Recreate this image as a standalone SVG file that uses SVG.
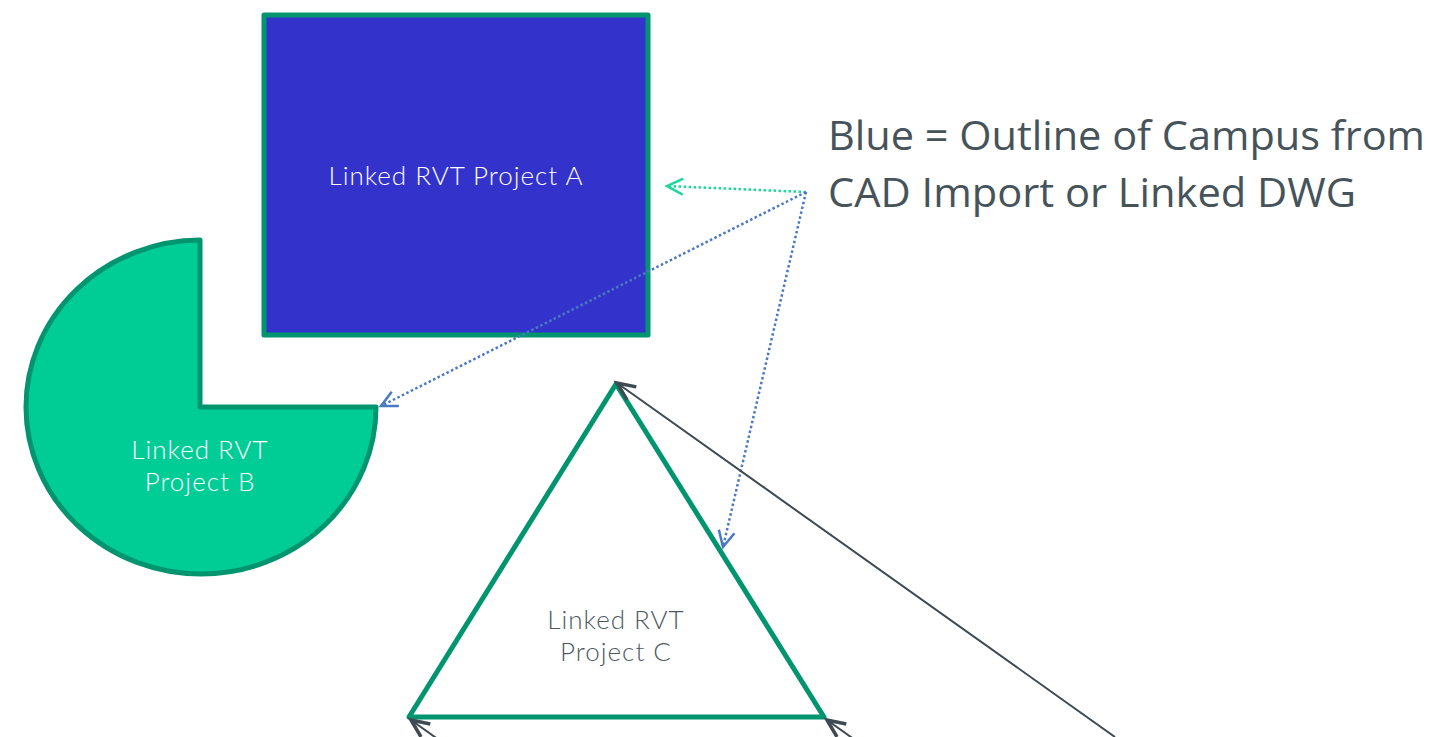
<svg xmlns="http://www.w3.org/2000/svg" width="1436" height="737" viewBox="0 0 1436 737">
<style>
.shape{stroke:#00956E;stroke-width:5;stroke-linejoin:round}
.lbl{font-family:"Lato","Inter",sans-serif;font-weight:300;font-size:26px;letter-spacing:1px;text-anchor:middle}
.note{font-family:"Open Sans","Noto Sans",sans-serif;font-size:40px;fill:#46535B}
.dotg{fill:none;stroke:#1ED79A;stroke-width:2.5;stroke-dasharray:2.5 2.5}
.dotb{fill:none;stroke:#4A78C2;stroke-width:2.5;stroke-dasharray:2.5 2.5}
.gray{fill:none;stroke:#3E4A52;stroke-width:2}
</style>
<defs>
<marker id="ag" markerUnits="userSpaceOnUse" markerWidth="30" markerHeight="30" refX="17" refY="10" orient="auto" viewBox="0 0 30 20">
<path d="M1,2 L17,10 L1,18" fill="none" stroke="#1ED79A" stroke-width="2.5"/>
</marker>
<marker id="ab" markerUnits="userSpaceOnUse" markerWidth="30" markerHeight="30" refX="17" refY="10" orient="auto" viewBox="0 0 30 20">
<path d="M1,2 L17,10 L1,18" fill="none" stroke="#4A78C2" stroke-width="2.5"/>
</marker>
<marker id="ak" markerUnits="userSpaceOnUse" markerWidth="30" markerHeight="30" refX="19" refY="10" orient="auto" viewBox="0 0 30 20">
<path d="M1,2 L19,10 L1,18" fill="none" stroke="#3E4A52" stroke-width="3.5"/>
</marker>
</defs>
<rect width="1436" height="737" fill="#FFFFFF"/>
<g id="nodeA">
<rect class="shape" x="264" y="15" width="384" height="320" fill="#3333CC"/>
<text class="lbl" x="456" y="185" fill="#FFFFFF">Linked RVT Project A</text>
</g>
<g id="nodeB">
<path class="shape" d="M200,240 A175,167 0 1 0 376,407 L200,407 Z" fill="#00CC96"/>
<text class="lbl" x="200" y="459" fill="#FFFFFF">Linked RVT</text>
<text class="lbl" x="200" y="491" fill="#FFFFFF">Project B</text>
</g>
<g id="nodeC">
<path class="shape" d="M616,384 L824,717 L409,717 Z" fill="#FFFFFF"/>
<text class="lbl" x="616" y="629" fill="#4D5A62">Linked RVT</text>
<text class="lbl" x="616" y="661" fill="#4D5A62">Project C</text>
</g>
<g id="note">
<text class="note" x="828" y="150" textLength="597" lengthAdjust="spacingAndGlyphs">Blue = Outline of Campus from</text>
<text class="note" x="828" y="207" textLength="528" lengthAdjust="spacingAndGlyphs">CAD Import or Linked DWG</text>
</g>
<g id="connectors">
<path class="dotg" d="M806,192 L667,186" marker-end="url(#ag)"/>
<path class="dotb" d="M806,192 L381,406" marker-end="url(#ab)"/>
<path class="dotb" d="M806,192 L723,547" marker-end="url(#ab)"/>
<path class="gray" d="M1115,737 L617,383" marker-end="url(#ak)"/>
<path class="gray" d="M470,762 L411,720" marker-end="url(#ak)"/>
<path class="gray" d="M886,762 L827,720" marker-end="url(#ak)"/>
</g>
</svg>
